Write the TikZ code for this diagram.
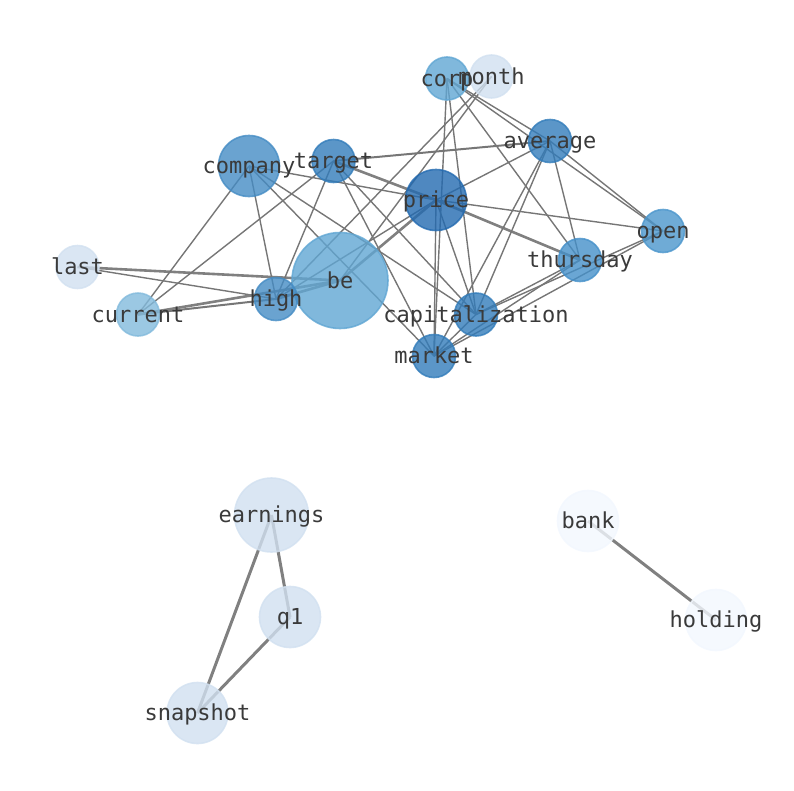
\documentclass[tikz,border=0pt]{standalone}
\usepackage{fontspec}
\newfontfamily\monof{DejaVu Sans Mono}
\pgfdeclarelayer{bg}
\pgfsetlayers{bg,main}
\definecolor{cP}{RGB}{35,106,176}
\definecolor{cT}{RGB}{50,124,186}
\definecolor{cC}{RGB}{69,140,196}
\definecolor{cTh}{RGB}{69,144,201}
\definecolor{cO}{RGB}{75,150,204}
\definecolor{cB}{RGB}{96,166,211}
\definecolor{cCur}{RGB}{130,186,220}
\definecolor{cL}{RGB}{209,224,240}
\definecolor{cVL}{RGB}{242,247,254}
\definecolor{edgec}{RGB}{118,118,118}
\definecolor{edgew}{RGB}{128,128,128}
\definecolor{txt}{RGB}{58,58,58}
\begin{document}
\begin{tikzpicture}[x=1pt,y=-1pt,
  nd/.style={circle, inner sep=0pt, line width=1.6pt, opacity=0.8},
  lbl/.style={font=\monof\fontsize{22}{26}\selectfont, text=txt, inner sep=0pt, text height=17pt, text depth=2pt},
  e/.style={draw=edgec, line width=1.4pt},
  ew/.style={draw=edgew, line width=2.6pt},
  em/.style={draw=edgec, line width=2pt},
  eb/.style={draw=edgew, line width=3pt}]
\useasboundingbox (0,0) rectangle (794,790);
% nodes (circles)
\node[nd, fill=cL, draw=cL, minimum size=43pt] (month) at (491.5,76.5) {};
\node[nd, fill=cB, draw=cB, minimum size=43pt] (corp) at (447,78.5) {};
\node[nd, fill=cT, draw=cT, minimum size=43pt] (average) at (550,141) {};
\node[nd, fill=cC, draw=cC, minimum size=61pt] (company) at (249,166) {};
\node[nd, fill=cT, draw=cT, minimum size=43pt] (target) at (333.5,161) {};
\node[nd, fill=cP, draw=cP, minimum size=61pt] (price) at (436,200) {};
\node[nd, fill=cO, draw=cO, minimum size=43pt] (open) at (663,231) {};
\node[nd, fill=cTh, draw=cTh, minimum size=43pt] (thursday) at (580,260) {};
\node[nd, fill=cL, draw=cL, minimum size=43pt] (last) at (77.5,267) {};
\node[nd, fill=cB, draw=cB, minimum size=96pt] (be) at (340,280.5) {};
\node[nd, fill=cC, draw=cC, minimum size=43pt] (high) at (276,299) {};
\node[nd, fill=cCur, draw=cCur, minimum size=43pt] (current) at (138,314.5) {};
\node[nd, fill=cT, draw=cT, minimum size=43pt] (capitalization) at (476,314.5) {};
\node[nd, fill=cT, draw=cT, minimum size=43pt] (market) at (434,356) {};
\node[nd, fill=cL, draw=cL, minimum size=74pt] (earnings) at (271.5,515) {};
\node[nd, fill=cL, draw=cL, minimum size=61pt] (q1) at (290,617) {};
\node[nd, fill=cL, draw=cL, minimum size=61pt] (snapshot) at (197.5,713) {};
\node[nd, fill=cVL, draw=cVL, minimum size=61pt] (bank) at (588,521) {};
\node[nd, fill=cVL, draw=cVL, minimum size=61pt] (holding) at (716,620) {};
% labels
\node[lbl] (l-month) at (month) {month};
\node[lbl] (l-corp) at (corp) {corp};
\node[lbl] (l-average) at (average) {average};
\node[lbl] (l-company) at (company) {company};
\node[lbl] (l-target) at (target) {target};
\node[lbl] (l-price) at (price) {price};
\node[lbl] (l-open) at (open) {open};
\node[lbl] (l-thursday) at (thursday) {thursday};
\node[lbl] (l-last) at (last) {last};
\node[lbl] (l-be) at (be) {be};
\node[lbl] (l-high) at (high) {high};
\node[lbl] (l-current) at (current) {current};
\node[lbl] (l-capitalization) at (capitalization) {capitalization};
\node[lbl] (l-market) at (market) {market};
\node[lbl] (l-earnings) at (earnings) {earnings};
\node[lbl] (l-q1) at (q1) {q1};
\node[lbl] (l-snapshot) at (snapshot) {snapshot};
\node[lbl] (l-bank) at (bank) {bank};
\node[lbl] (l-holding) at (holding) {holding};
% edges
\begin{pgfonlayer}{bg}
\draw[ew] (last.center) -- (be.center);
\draw[e] (last.center) -- (high.center);
\draw[em] (current.center) -- (high.center);
\draw[ew] (current.center) -- (be.center);
\draw[e] (current.center) -- (company.center);
\draw[e] (current.center) -- (target.center);
\draw[e] (company.center) -- (high.center);
\draw[e] (company.center) -- (price.center);
\draw[e] (company.center) -- (capitalization.center);
\draw[e] (company.center) -- (market.center);
\draw[em] (target.center) -- (average.center);
\draw[ew] (target.center) -- (price.center);
\draw[e] (target.center) -- (high.center);
\draw[e] (target.center) -- (capitalization.center);
\draw[e] (target.center) -- (market.center);
\draw[ew] (be.center) -- (high.center);
\draw[ew] (be.center) -- (price.center);
\draw[e] (high.center) -- (price.center);
\draw[e] (high.center) -- (month.center);
\draw[e] (be.center) -- (month.center);
\draw[e] (price.center) -- (capitalization.center);
\draw[e] (price.center) -- (market.center);
\draw[ew] (price.center) -- (thursday.center);
\draw[e] (price.center) -- (open.center);
\draw[e] (price.center) -- (average.center);
\draw[e] (average.center) -- (capitalization.center);
\draw[e] (average.center) -- (market.center);
\draw[e] (average.center) -- (thursday.center);
\draw[e] (average.center) -- (open.center);
\draw[e] (corp.center) -- (average.center);
\draw[e] (corp.center) -- (open.center);
\draw[e] (corp.center) -- (thursday.center);
\draw[e] (corp.center) -- (market.center);
\draw[e] (corp.center) -- (capitalization.center);
\draw[e] (thursday.center) -- (capitalization.center);
\draw[e] (thursday.center) -- (market.center);
\draw[e] (open.center) -- (capitalization.center);
\draw[e] (open.center) -- (market.center);
\draw[e] (capitalization.center) -- (market.center);
\draw[eb] (earnings.center) -- (q1.center);
\draw[eb] (earnings.center) -- (snapshot.center);
\draw[eb] (q1.center) -- (snapshot.center);
\draw[eb] (bank.center) -- (holding.center);
\end{pgfonlayer}
\end{tikzpicture}
\end{document}
